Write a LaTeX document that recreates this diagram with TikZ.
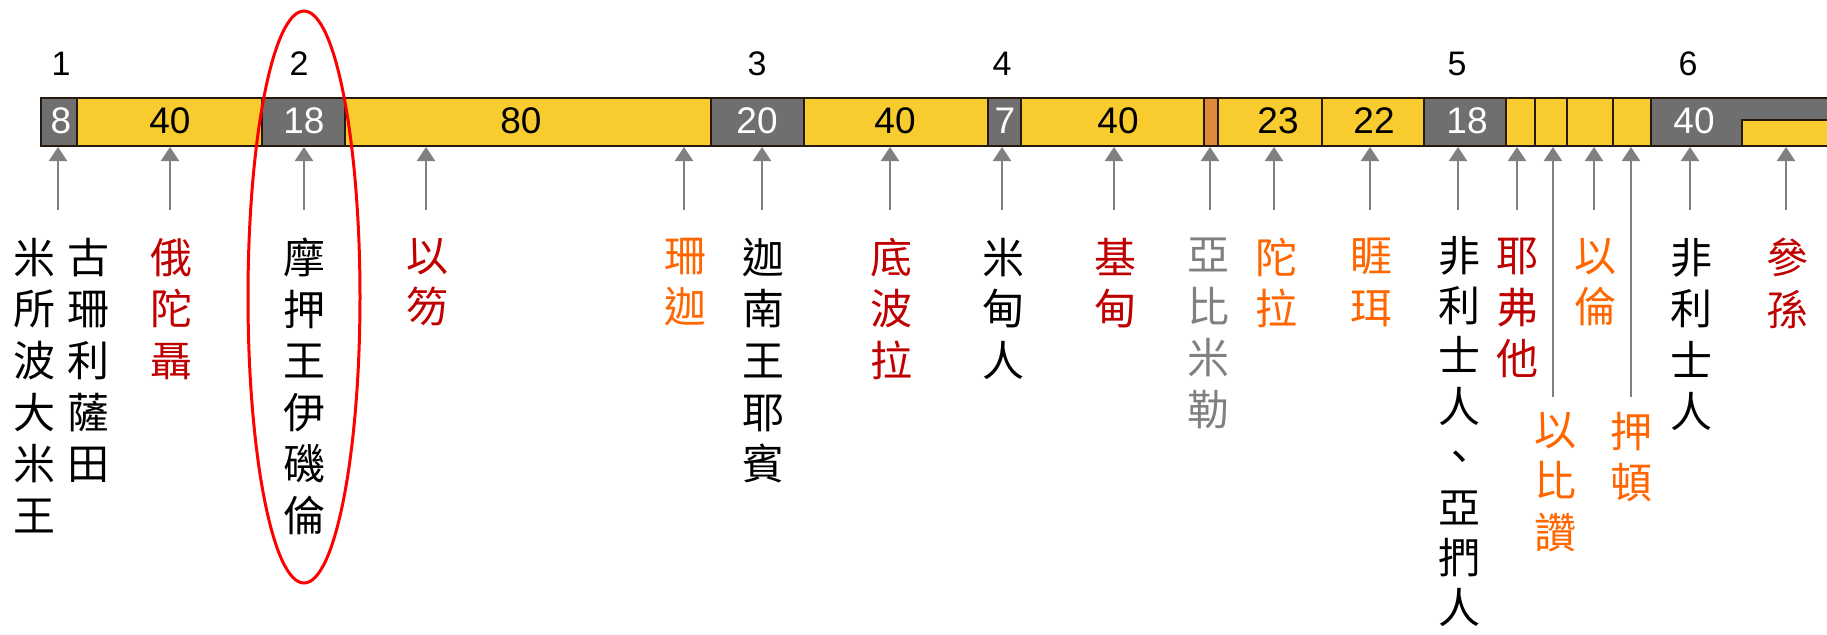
\documentclass[tikz,border=0pt]{standalone}
\usepackage{fontspec}
\setmainfont{Liberation Sans}
\newfontfamily\cjk{Noto Sans CJK TC}
\usetikzlibrary{arrows.meta}
\definecolor{barYellow}{RGB}{248,203,46}
\definecolor{barGray}{RGB}{111,111,111}
\definecolor{barOrange}{RGB}{222,137,60}
\definecolor{lineDark}{RGB}{40,25,15}
\definecolor{textRed}{RGB}{192,0,0}
\definecolor{textOrange}{RGB}{255,102,0}
\definecolor{textGray}{RGB}{128,128,128}
\definecolor{arrowGray}{RGB}{128,128,128}

\begin{document}
\begin{tikzpicture}[x=0.5pt, y=-0.5pt,
  every node/.style={inner sep=0pt, outer sep=0pt},
  ycell/.style={fill=barYellow, draw=lineDark, line width=1pt},
  gcell/.style={fill=barGray, draw=lineDark, line width=1pt},
  ocell/.style={fill=barOrange, draw=lineDark, line width=1pt},
  num/.style={font=\fontsize{18.5}{18.5}\selectfont},
  wnum/.style={num, text=white},
  cyc/.style={font=\fontsize{17}{17}\selectfont},
  judge/.style={font=\cjk\fontsize{21}{25.8}\selectfont, align=center, anchor=north},
  pointer/.style={draw=arrowGray, line width=1.2pt, -{Triangle[width=9pt,length=7pt]}}]
\useasboundingbox (0,0) rectangle (1827,634);

\draw[gcell] (41,98) rectangle (77,146);
\draw[ycell] (77,98) rectangle (262,146);
\draw[gcell] (262,98) rectangle (345,146);
\draw[ycell] (345,98) rectangle (711,146);
\draw[gcell] (711,98) rectangle (804,146);
\draw[ycell] (804,98) rectangle (988,146);
\draw[gcell] (988,98) rectangle (1021,146);
\draw[ycell] (1021,98) rectangle (1204,146);
\draw[ocell] (1204,98) rectangle (1218,146);
\draw[ycell] (1218,98) rectangle (1322,146);
\draw[ycell] (1322,98) rectangle (1424,146);
\draw[gcell] (1424,98) rectangle (1506,146);
\draw[ycell] (1506,98) rectangle (1535,146);
\draw[ycell] (1535,98) rectangle (1567,146);
\draw[ycell] (1567,98) rectangle (1613,146);
\draw[ycell] (1613,98) rectangle (1651,146);
\draw[gcell] (1651,98) rectangle (1832,146);
\draw[ycell] (1742,120) rectangle (1832,146);
\coordinate (barbot) at (0,147);

\node[wnum] (v1) at (61,121) {8};
\node[num] (v2) at (170,121) {40};
\node[wnum] (v3) at (304,121) {18};
\node[num] (v4) at (521,121) {80};
\node[wnum] (v5) at (757,121) {20};
\node[num] (v6) at (895,121) {40};
\node[wnum] (v7) at (1005,121) {7};
\node[num] (v8) at (1118,121) {40};
\node[num] (v9) at (1278,121) {23};
\node[num] (v10) at (1374,121) {22};
\node[wnum] (v11) at (1467,121) {18};
\node[wnum] (v12) at (1694,121) {40};

\node[cyc] (c1) at (61,64) {1};
\node[cyc] (c2) at (299,64) {2};
\node[cyc] (c3) at (757,64) {3};
\node[cyc] (c4) at (1002,64) {4};
\node[cyc] (c5) at (1457,64) {5};
\node[cyc] (c6) at (1688,64) {6};

\node[judge] (j1) at (34,238) {米\\所\\波\\大\\米\\王};
\node[judge] (j2) at (89,238) {古\\珊\\利\\薩\\田};
\node[judge, text=textRed] (j3) at (171,238) {俄\\陀\\聶};
\node[judge] (j4) at (304,238) {摩\\押\\王\\伊\\磯\\倫};
\node[judge, text=textRed] (j5) at (427,238) {以\\笏};
\node[judge, text=textOrange] (j6) at (685,238) {珊\\迦};
\node[judge] (j7) at (763,238) {迦\\南\\王\\耶\\賓};
\node[judge, text=textRed] (j8) at (891,238) {底\\波\\拉};
\node[judge] (j9) at (1003,238) {米\\甸\\人};
\node[judge, text=textRed] (j10) at (1115,238) {基\\甸};
\node[judge, text=textGray] (j11) at (1208,238) {亞\\比\\米\\勒};
\node[judge, text=textOrange] (j12) at (1276,238) {陀\\拉};
\node[judge, text=textOrange] (j13) at (1371,238) {睚\\珥};
\node[judge, font=\cjk\fontsize{21}{25.2}\selectfont] (j14) at (1459,236) {非\\利\\士\\人\\、\\亞\\捫\\人};
\node[judge, text=textRed] (j15) at (1517,238) {耶\\弗\\他};
\node[judge, text=textOrange] (j16) at (1555,412) {以\\比\\讚};
\node[judge, text=textOrange] (j17) at (1595,238) {以\\倫};
\node[judge, text=textOrange] (j18) at (1631,412) {押\\頓};
\node[judge] (j19) at (1691,238) {非\\利\\士\\人};
\node[judge, text=textRed] (j20) at (1787,238) {參\\孫};

\coordinate (t1) at (58,210);
\coordinate (t2) at (170,210);
\coordinate (t3) at (304,210);
\coordinate (t4) at (426,210);
\coordinate (t5) at (684,210);
\coordinate (t6) at (762,210);
\coordinate (t7) at (890,210);
\coordinate (t8) at (1002,210);
\coordinate (t9) at (1114,210);
\coordinate (t10) at (1210,210);
\coordinate (t11) at (1274,210);
\coordinate (t12) at (1370,210);
\coordinate (t13) at (1458,210);
\coordinate (t14) at (1517,210);
\coordinate (t15) at (1553,397);
\coordinate (t16) at (1594,210);
\coordinate (t17) at (1631,397);
\coordinate (t18) at (1690,210);
\coordinate (t19) at (1786,210);

\draw[pointer] (t1) -- (t1 |- barbot);
\draw[pointer] (t2) -- (t2 |- barbot);
\draw[pointer] (t3) -- (t3 |- barbot);
\draw[pointer] (t4) -- (t4 |- barbot);
\draw[pointer] (t5) -- (t5 |- barbot);
\draw[pointer] (t6) -- (t6 |- barbot);
\draw[pointer] (t7) -- (t7 |- barbot);
\draw[pointer] (t8) -- (t8 |- barbot);
\draw[pointer] (t9) -- (t9 |- barbot);
\draw[pointer] (t10) -- (t10 |- barbot);
\draw[pointer] (t11) -- (t11 |- barbot);
\draw[pointer] (t12) -- (t12 |- barbot);
\draw[pointer] (t13) -- (t13 |- barbot);
\draw[pointer] (t14) -- (t14 |- barbot);
\draw[pointer] (t15) -- (t15 |- barbot);
\draw[pointer] (t16) -- (t16 |- barbot);
\draw[pointer] (t17) -- (t17 |- barbot);
\draw[pointer] (t18) -- (t18 |- barbot);
\draw[pointer] (t19) -- (t19 |- barbot);

\draw[red, line width=1.5pt] (304,297) ellipse [x radius=56, y radius=286];
\end{tikzpicture}
\end{document}
